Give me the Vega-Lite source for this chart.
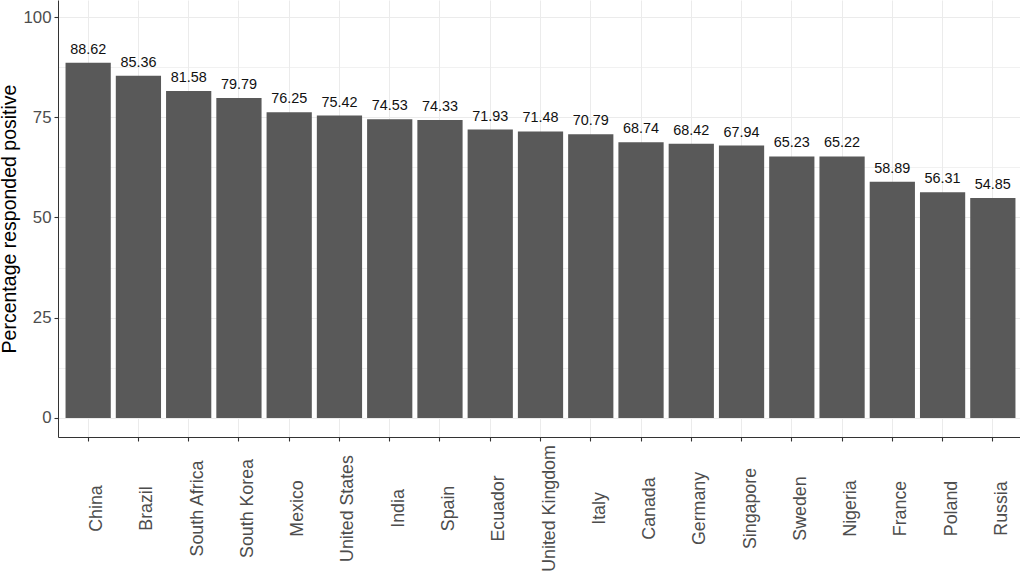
{
  "$schema": "https://vega.github.io/schema/vega-lite/v6.json",
  "width": 965,
  "height": 437,
  "autosize": {"type": "none"},
  "padding": {"left": 58, "top": 0, "right": 0, "bottom": 137},
  "background": "white",
  "config": {
    "view": {"stroke": null},
    "font": "Liberation Sans",
    "axis": {"gridColor": "#EBEBEB", "domainColor": "#333333", "tickColor": "#333333", "labelColor": "#4D4D4D", "titleColor": "#000000", "titleFontWeight": "normal", "labelFont": "Liberation Sans", "titleFont": "Liberation Sans"}
  },
  "data": {
    "values": [
      {"country": "China", "pct": 88.62},
      {"country": "Brazil", "pct": 85.36},
      {"country": "South Africa", "pct": 81.58},
      {"country": "South Korea", "pct": 79.79},
      {"country": "Mexico", "pct": 76.25},
      {"country": "United States", "pct": 75.42},
      {"country": "India", "pct": 74.53},
      {"country": "Spain", "pct": 74.33},
      {"country": "Ecuador", "pct": 71.93},
      {"country": "United Kingdom", "pct": 71.48},
      {"country": "Italy", "pct": 70.79},
      {"country": "Canada", "pct": 68.74},
      {"country": "Germany", "pct": 68.42},
      {"country": "Singapore", "pct": 67.94},
      {"country": "Sweden", "pct": 65.23},
      {"country": "Nigeria", "pct": 65.22},
      {"country": "France", "pct": 58.89},
      {"country": "Poland", "pct": 56.31},
      {"country": "Russia", "pct": 54.85}
    ]
  },
  "encoding": {
    "x": {
      "field": "country",
      "type": "nominal",
      "sort": null,
      "scale": {"paddingInner": 0.1, "paddingOuter": 0.15},
      "axis": {
        "title": null,
        "grid": true,
        "gridWidth": 1,
        "labelAngle": -90,
        "labelAlign": "center",
        "labelBaseline": "top",
        "labelFontSize": 17.8,
        "labelPadding": 67,
        "tickSize": 4,
        "tickWidth": 1.1,
        "domainWidth": 1
      }
    },
    "y": {
      "field": "pct",
      "type": "quantitative",
      "scale": {"domain": [-4.75, 104.25], "nice": false, "zero": false},
      "axis": {
        "title": "Percentage responded positive",
        "titleFontSize": 19.5,
        "titleAngle": -90,
        "titleAlign": "center",
        "titleBaseline": "alphabetic",
        "titleX": -42.5,
        "titleY": 218.5,
        "values": [0, 12.5, 25, 37.5, 50, 62.5, 75, 87.5, 100],
        "labelExpr": "datum.value % 25 == 0 ? datum.label : ''",
        "labelFontSize": 16.8,
        "labelPadding": 3,
        "tickSize": 4,
        "tickWidth": 1.1,
        "tickOpacity": {"condition": {"test": "datum.value % 25 != 0", "value": 0}, "value": 1},
        "gridWidth": {"condition": {"test": "datum.value % 25 != 0", "value": 0.7}, "value": 1.1},
        "domainWidth": 1
      }
    }
  },
  "layer": [
    {
      "mark": {"type": "bar", "color": "#595959"},
      "encoding": {"y2": {"datum": 0}}
    },
    {
      "mark": {"type": "text", "baseline": "alphabetic", "dy": -9, "fontSize": 14.4, "color": "#111111", "font": "Liberation Sans"},
      "encoding": {"text": {"field": "pct", "type": "quantitative", "format": ".2f"}}
    }
  ]
}
